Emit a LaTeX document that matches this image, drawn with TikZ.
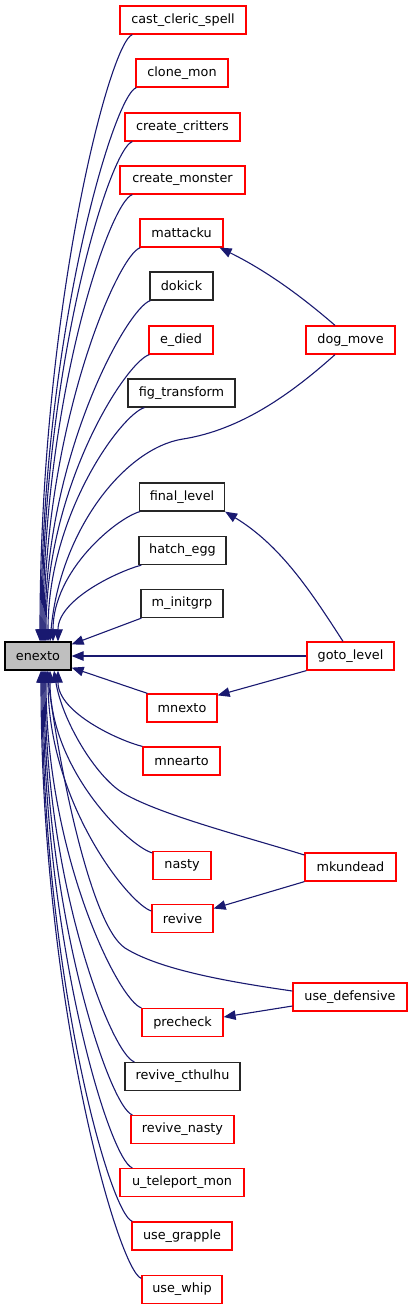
\documentclass[tikz,border=0pt]{standalone}
\usepackage{fontspec}
\setmainfont{DejaVu Sans}
\usetikzlibrary{arrows.meta}
\definecolor{edgecol}{HTML}{191970}
\definecolor{redbox}{HTML}{FF0000}
\definecolor{grayfill}{HTML}{BFBFBF}
\tikzset{
  box/.style={draw=black, line width=1.25pt, fill=white, inner sep=0pt, minimum height=28pt, font=\fontsize{12.8}{14}\selectfont},
  rbox/.style={box, draw=redbox},
  bbox/.style={box, draw=black!85},
  edge/.style={draw=edgecol, line width=1.1pt, -{Triangle[length=12pt,width=9.5pt]}},
}
\begin{document}
\begin{tikzpicture}[x=1pt,y=1pt]
\useasboundingbox (0,0) rectangle (413,-1309);
% nodes
\node[box, fill=grayfill, minimum width=66pt] (enexto) at (38,-656) {enexto};
\node[rbox, minimum width=126pt] (cast) at (183,-20) {cast\_cleric\_spell};
\node[rbox, minimum width=92pt] (clone) at (182,-73) {clone\_mon};
\node[rbox, minimum width=115pt] (critters) at (182.5,-127) {create\_critters};
\node[rbox, minimum width=125pt] (monster) at (182.5,-180) {create\_monster};
\node[rbox, minimum width=83pt] (mattacku) at (181.5,-233) {mattacku};
\node[bbox, minimum width=63pt] (dokick) at (181.5,-286) {dokick};
\node[rbox, minimum width=64pt] (edied) at (181,-340) {e\_died};
\node[bbox, minimum width=107pt] (fig) at (181.5,-393) {fig\_transform};
\node[bbox, minimum width=85pt] (final) at (182,-497) {final\_level};
\node[bbox, minimum width=87pt] (hatch) at (182.5,-550.5) {hatch\_egg};
\node[bbox, minimum width=82pt] (initgrp) at (182,-603.5) {m\_initgrp};
\node[rbox, minimum width=70pt] (mnexto) at (182,-708) {mnexto};
\node[rbox, minimum width=77pt] (mnearto) at (181.5,-761) {mnearto};
\node[rbox, minimum width=58pt] (nasty) at (182,-865.5) {nasty};
\node[rbox, minimum width=61pt] (revive) at (182.5,-918.5) {revive};
\node[rbox, minimum width=81pt] (precheck) at (182.5,-1022.5) {precheck};
\node[bbox, minimum width=115pt] (cthulhu) at (182.5,-1076.5) {revive\_cthulhu};
\node[rbox, minimum width=103pt] (rnasty) at (182.5,-1129.5) {revive\_nasty};
\node[rbox, minimum width=124pt] (uteleport) at (182,-1182.5) {u\_teleport\_mon};
\node[rbox, minimum width=100pt] (grapple) at (182,-1236) {use\_grapple};
\node[rbox, minimum width=80pt] (whip) at (182,-1289.5) {use\_whip};
\node[rbox, minimum width=89pt] (dogmove) at (350.5,-340) {dog\_move};
\node[rbox, minimum width=87pt] (gotolevel) at (350.5,-656) {goto\_level};
\node[rbox, minimum width=91pt] (mkundead) at (350.5,-867) {mkundead};
\node[rbox, minimum width=114pt] (usedef) at (350,-997) {use\_defensive};
% top callers
\draw[edge] ([xshift=13pt]cast.south west) .. controls (110,-41) and (40,-308) .. ([xshift=2pt]enexto.north);
\draw[edge] ([xshift=1pt]clone.south west) .. controls (114,-94) and (41,-337) .. ([xshift=3pt]enexto.north);
\draw[edge] ([xshift=8pt]critters.south west) .. controls (110,-148) and (42,-366) .. ([xshift=4pt]enexto.north);
\draw[edge] ([xshift=13pt]monster.south west) .. controls (110,-201) and (43,-396) .. ([xshift=5pt]enexto.north);
\draw[edge] ([xshift=1pt]mattacku.south west) .. controls (118,-254) and (44,-425) .. ([xshift=6pt]enexto.north);
\draw[edge] ([xshift=1pt]dokick.south west) .. controls (128,-307) and (45,-454) .. ([xshift=7pt]enexto.north);
\draw[edge] ([xshift=1pt]edied.south west) .. controls (127,-361) and (46,-484) .. ([xshift=8pt]enexto.north);
\draw[edge] ([xshift=17pt]fig.south west) .. controls (122,-414) and (48,-513) .. ([xshift=10pt]enexto.north);
\draw[edge] ([xshift=-15.5pt]dogmove.south) .. controls (290,-395) and (240,-430) .. (183,-439)
  .. controls (125,-448) and (60,-530) .. ([xshift=12pt]enexto.north);
\draw[edge] ([xshift=1pt]final.south west) .. controls (117,-518) and (53,-570) .. ([xshift=15pt]enexto.north);
\draw[edge] ([xshift=3pt]hatch.south west) .. controls (119,-571) and (58,-599) .. ([xshift=20pt]enexto.north);
\draw[edge] ([xshift=1pt]initgrp.south west) -- ([yshift=-3pt]enexto.north east);
% straight
\draw[edge] (gotolevel.west) -- (enexto.east);
% bottom callers
\draw[edge] ([xshift=1pt]mnexto.north west) -- ([yshift=3pt]enexto.south east);
\draw[edge] (mnearto.north west) .. controls (120,-741) and (58,-713) .. ([xshift=20pt]enexto.south);
\draw[edge] ([yshift=12pt]mkundead.west) .. controls (250,-838) and (160,-815) .. (123,-793)
  .. controls (95,-776) and (62,-720) .. ([xshift=16pt]enexto.south);
\draw[edge] ([yshift=-2pt]nasty.north west) .. controls (130,-847) and (50,-771) .. ([xshift=12pt]enexto.south);
\draw[edge] ([yshift=7.5pt]revive.west) .. controls (129,-904) and (48,-803) .. ([xshift=10pt]enexto.south);
\draw[edge] ([yshift=6pt]usedef.west) .. controls (230,-982) and (160,-970) .. (125,-948)
  .. controls (90,-925) and (58,-760) .. ([xshift=9pt]enexto.south);
\draw[edge] (precheck.north west) .. controls (119,-1001) and (46,-856) .. ([xshift=8pt]enexto.south);
\draw[edge] ([xshift=10pt]cthulhu.north west) .. controls (112,-1055) and (45,-886) .. ([xshift=7pt]enexto.south);
\draw[edge] ([xshift=2pt]rnasty.north west) .. controls (110,-1108) and (44,-915) .. ([xshift=6pt]enexto.south);
\draw[edge] ([xshift=13pt]uteleport.north west) .. controls (110,-1161) and (43,-944) .. ([xshift=5pt]enexto.south);
\draw[edge] ([xshift=1pt]grapple.north west) .. controls (110,-1215) and (42,-974) .. ([xshift=4pt]enexto.south);
\draw[edge] ([yshift=-3.5pt]whip.north west) .. controls (119,-1272) and (41,-1005) .. ([xshift=3pt]enexto.south);
% secondary edges
\draw[edge] ([xshift=-15.5pt]dogmove.north) .. controls (300,-295) and (265,-270) .. ([xshift=-4pt]mattacku.south east);
\draw[edge] ([xshift=-7.5pt]gotolevel.north) .. controls (310,-590) and (280,-545) .. (final.south east);
\draw[edge] (gotolevel.south west) -- ([yshift=-2pt]mnexto.north east);
\draw[edge] (mkundead.south west) -- ([yshift=10pt]revive.east);
\draw[edge] ([yshift=-9pt]usedef.west) -- ([yshift=5.5pt]precheck.east);
\end{tikzpicture}
\end{document}
